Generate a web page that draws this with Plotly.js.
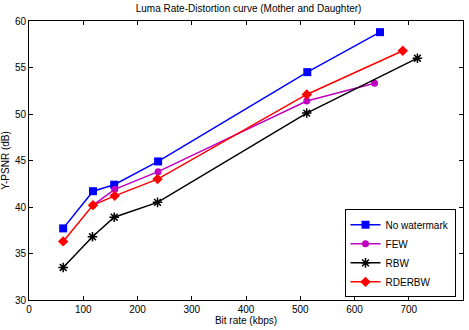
<!DOCTYPE html>
<html>
<head>
<meta charset="utf-8">
<script src="https://cdn.plot.ly/plotly-3.0.1.min.js"></script>
<style>html,body{margin:0;padding:0;background:#fff;}#chart{width:469px;height:330px;}</style>
</head>
<body>
<div id="chart"></div>
<script>
const seriesNames = ["No watermark", "FEW", "RBW", "RDERBW"];
const noWatermarkX = [63, 118, 157, 238, 513, 647];
const noWatermarkY = [37.7, 41.7, 42.4, 44.9, 54.5, 58.8];
const fewX = [118, 158, 238, 512, 637];
const fewY = [40.2, 41.9, 43.8, 51.4, 53.3];
const rbwX = [63, 117, 157, 237, 512, 716];
const rbwY = [33.5, 36.8, 38.9, 40.5, 50.1, 56.0];
const rderbwX = [63, 118, 158, 237, 512, 689];
const rderbwY = [36.3, 40.2, 41.2, 43.0, 52.1, 56.8];
const xTicks = [0, 100, 200, 300, 400, 500, 600, 700, 800];
const yTicks = [30, 35, 40, 45, 50, 55, 60];

const traces = [
  {x: noWatermarkX, y: noWatermarkY, name: seriesNames[0], mode: "lines+markers",
   line: {color: "#0000ff", width: 1.5}, marker: {symbol: "square", size: 8, color: "#0000ff"}},
  {x: fewX, y: fewY, name: seriesNames[1], mode: "lines+markers",
   line: {color: "#c000c0", width: 1.5}, marker: {symbol: "circle", size: 7, color: "#c000c0"}},
  {x: rbwX, y: rbwY, name: seriesNames[2], mode: "lines+markers",
   line: {color: "#000000", width: 1.5}, marker: {symbol: "asterisk-open", size: 8, color: "#000000", line: {width: 1.5, color: "#000000"}}},
  {x: rderbwX, y: rderbwY, name: seriesNames[3], mode: "lines+markers",
   line: {color: "#ff0000", width: 1.5}, marker: {symbol: "diamond", size: 8, color: "#ff0000"}}
];

const font = {family: "Liberation Sans, Arial, sans-serif", size: 10, color: "#000"};
const layout = {
  width: 469, height: 330,
  margin: {l: 29, r: 6, t: 21, b: 30, pad: 0},
  paper_bgcolor: "#fff", plot_bgcolor: "#fff",
  font: font,
  showlegend: true,
  title: {text: "Luma Rate-Distortion curve (Mother and Daughter)", font: {family: font.family, size: 10, color: "#000"}, x: 0.53, xanchor: "center", y: 0.985, yanchor: "top"},
  xaxis: {range: [0, 800], tickvals: xTicks, ticktext: xTicks.map(String), ticks: "inside", ticklen: 4, tickcolor: "#000",
    showgrid: false, zeroline: false, showline: true, linecolor: "#000", linewidth: 1, mirror: "ticks",
    tickfont: {size: 10}, title: {text: "Bit rate (kbps)", font: {size: 10}, standoff: 2}},
  yaxis: {range: [30, 60], tickvals: yTicks, ticktext: yTicks.map(String), ticks: "inside", ticklen: 4, tickcolor: "#000",
    showgrid: false, zeroline: false, showline: true, linecolor: "#000", linewidth: 1, mirror: "ticks",
    tickfont: {size: 10}, title: {text: "Y-PSNR (dB)", font: {size: 10}, standoff: 4}},
  legend: {x: 0.727, y: 0.325, xanchor: "left", yanchor: "top", bgcolor: "#fff", bordercolor: "#000", borderwidth: 1,
    font: {size: 10}, itemwidth: 30, tracegroupgap: 0}
};

Plotly.newPlot("chart", traces, layout, {staticPlot: true, displayModeBar: false});
</script>
</body>
</html>
